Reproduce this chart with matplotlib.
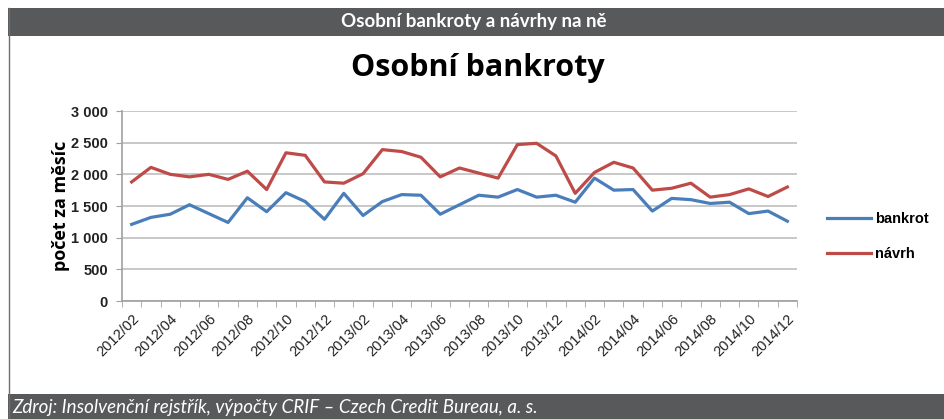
import matplotlib.pyplot as plt
from matplotlib.patches import Rectangle
from matplotlib.lines import Line2D
import numpy as np

# monthly data 2012/02 - 2014/12
months = [f"{y}/{m:02d}" for y in (2012, 2013, 2014) for m in range(1, 13)][1:]
bankrot = [1210, 1320, 1370, 1520, 1380, 1240, 1630, 1410, 1710, 1570, 1290, 1700,
           1350, 1570, 1680, 1670, 1370, 1520, 1670, 1640, 1760, 1640, 1670, 1560,
           1940, 1750, 1760, 1420, 1620, 1600, 1540, 1560, 1380, 1420, 1260]
navrh = [1880, 2110, 2000, 1960, 2000, 1920, 2050, 1760, 2340, 2300, 1880, 1860,
         2010, 2390, 2360, 2270, 1960, 2100, 2020, 1940, 2470, 2490, 2290, 1700,
         2030, 2190, 2100, 1750, 1780, 1860, 1640, 1680, 1770, 1650, 1800]
y_ticks = [0, 500, 1000, 1500, 2000, 2500, 3000]

W, H = 944, 419
fig = plt.figure(figsize=(W / 100, H / 100), dpi=100)

# frame: header bar, footer bar, left border
band = '#58595b'
fig.patches.append(Rectangle((8 / W, 1 - 36 / H), 1, 28 / H, transform=fig.transFigure,
                             facecolor=band, edgecolor='none'))
fig.patches.append(Rectangle((8 / W, 0), 1, 25 / H, transform=fig.transFigure,
                             facecolor=band, edgecolor='none'))
fig.lines.append(Line2D([8.5 / W, 8.5 / W], [0, 1 - 8 / H], transform=fig.transFigure,
                        color='#6d6e70', lw=1))

fig.text(474 / W, 1 - 22 / H, 'Osobní bankroty a návrhy na ně', color='white',
         fontsize=13.5, fontweight='bold', family='Lato', ha='center', va='center')
fig.text(12 / W, 1 - 407 / H, 'Zdroj: Insolvenční rejstřík, výpočty CRIF – Czech Credit Bureau, a. s.',
         color='white', fontsize=13.5, style='italic', family='Lato', ha='left', va='center')
fig.text(478 / W, 1 - 68 / H, 'Osobní bankroty', color='black', fontsize=22,
         fontweight='bold', family='Open Sans', ha='center', va='center')

ax = fig.add_axes([122 / W, 1 - 301 / H, 675 / W, 190 / H])
x = np.arange(len(months))
ax.plot(x, bankrot, color='#4a7ebb', lw=2.3, label='bankrot', zorder=3)
ax.plot(x, navrh, color='#be4b48', lw=2.3, label='návrh', zorder=3)

ax.set_xlim(-0.5, len(months) - 0.5)
ax.set_ylim(0, 3000)
ax.set_yticks(y_ticks)
ax.set_yticklabels([f"{v:,}".replace(',', ' ') for v in y_ticks], fontsize=10.5,
                   fontweight='bold', family='Liberation Sans', color='#222222')
ax.yaxis.grid(True, color='#c4c4c4', lw=1.3, zorder=0)
ax.tick_params(axis='y', length=4, color='#a0a0a0', pad=6)

ax.set_xticks(x[::2])
ax.set_xticklabels(months[::2], rotation=45, ha='right', rotation_mode='anchor',
                   fontsize=10.5, family='Liberation Sans', color='#222222')
ax.set_xticks(np.arange(-0.5, len(months)), minor=True)
ax.tick_params(axis='x', which='major', length=0, pad=8)
ax.tick_params(axis='x', which='minor', length=4, color='#a0a0a0')

for s in ['top', 'right']:
    ax.spines[s].set_visible(False)
for s in ['left', 'bottom']:
    ax.spines[s].set_color('#a0a0a0')
    ax.spines[s].set_linewidth(1.2)

ax.set_ylabel('počet za měsíc', fontsize=13, fontweight='bold', family='Open Sans',
              labelpad=1)

ax.legend(loc='center left', bbox_to_anchor=(1.025, 0.34), frameon=False,
          prop={'family': 'Liberation Sans', 'weight': 'bold', 'size': 10.5},
          handlelength=3.0, handletextpad=0.3, labelspacing=1.4)

fig.savefig('out.png', dpi=100)
